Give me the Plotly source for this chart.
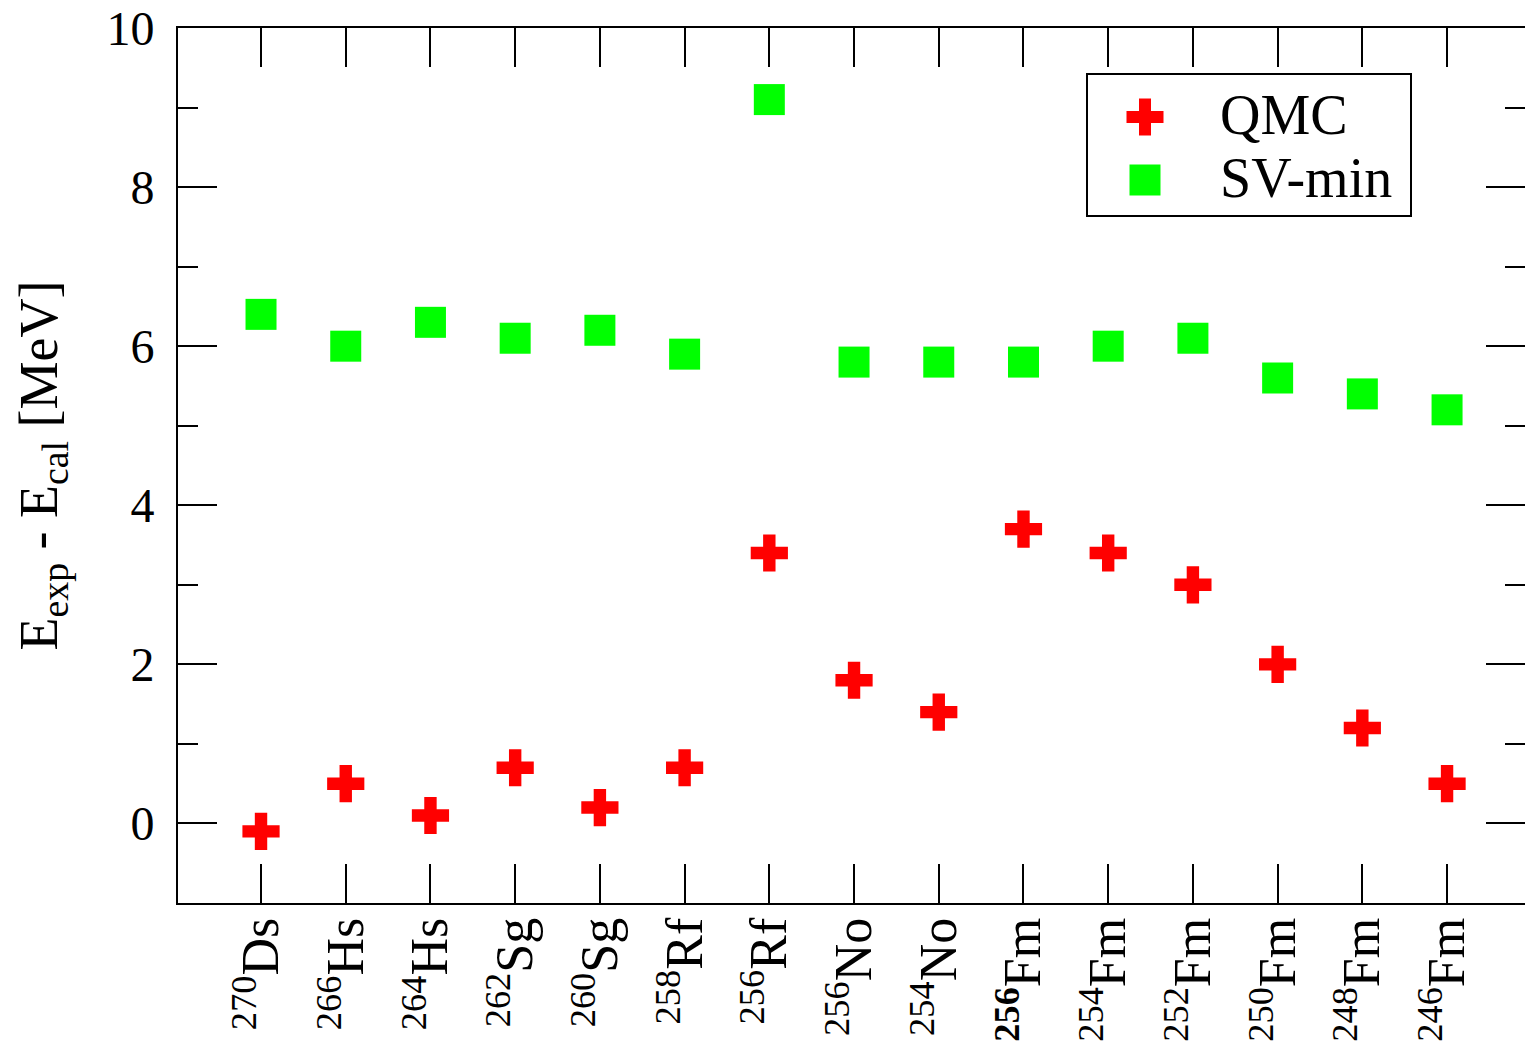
import plotly.graph_objects as go

# ---- data ----
nuclei = ["270Ds", "266Hs", "264Hs", "262Sg", "260Sg", "258Rf", "256Rf", "256No",
          "254No", "256Fm", "254Fm", "252Fm", "250Fm", "248Fm", "246Fm"]
tick_labels = ["<sup>270</sup>Ds", "<sup>266</sup>Hs", "<sup>264</sup>Hs", "<sup>262</sup>Sg",
               "<sup>260</sup>Sg", "<sup>258</sup>Rf", "<sup>256</sup>Rf", "<sup>256</sup>No",
               "<sup>254</sup>No", "<sup><b>256</b></sup>Fm", "<sup>254</sup>Fm", "<sup>252</sup>Fm",
               "<sup>250</sup>Fm", "<sup>248</sup>Fm", "<sup>246</sup>Fm"]
qmc = [-0.1, 0.5, 0.1, 0.7, 0.2, 0.7, 3.4, 1.8, 1.4, 3.7, 3.4, 3.0, 2.0, 1.2, 0.5]
svmin = [6.4, 6.0, 6.3, 6.1, 6.2, 5.9, 9.1, 5.8, 5.8, 5.8, 6.0, 6.1, 5.6, 5.4, 5.2]

FONT = "Liberation Serif"
RED = "#ff0000"
GREEN = "#00ff00"

fig = go.Figure()
fig.add_trace(go.Scatter(x=nuclei, y=qmc, mode="markers", name="QMC",
                         marker=dict(symbol="cross", size=31, color=RED, line=dict(width=0))))
fig.add_trace(go.Scatter(x=nuclei, y=svmin, mode="markers", name="SV-min",
                         marker=dict(symbol="square", size=31, color=GREEN, line=dict(width=0))))
# empty trace to activate the right-hand tick axis
fig.add_trace(go.Scatter(x=[], y=[], yaxis="y2", showlegend=False, hoverinfo="skip"))

fig.update_layout(
    width=1525, height=1054,
    margin=dict(l=178, r=0, t=28, b=151, autoexpand=False),
    paper_bgcolor="white", plot_bgcolor="white",
    showlegend=False,
    font=dict(family=FONT, color="black"),
    xaxis=dict(
        type="category", categoryorder="array", categoryarray=nuclei,
        range=[-0.98, 14.92],
        tickvals=nuclei, ticktext=tick_labels, tickangle=-90,
        tickfont=dict(family=FONT, size=52, color="black"),
        ticks="inside", ticklen=39, tickwidth=2, tickcolor="black",
        ticklabelstandoff=-8,
        showline=True, linewidth=2, linecolor="black", mirror="ticks",
        showgrid=False, zeroline=False,
    ),
    yaxis=dict(
        range=[-1, 10], tickvals=[0, 2, 4, 6, 8, 10],
        tickfont=dict(family=FONT, size=48, color="black"),
        ticks="inside", ticklen=39, tickwidth=2, tickcolor="black",
        minor=dict(ticks="inside", ticklen=20, tickwidth=2, tickcolor="black", dtick=1, tick0=0),
        ticklabelstandoff=12,
        showline=True, linewidth=2, linecolor="black", mirror=False,
        showgrid=False, zeroline=False,
        title=dict(text="E<sub>exp</sub> - E<sub>cal</sub> [MeV]",
                   font=dict(family=FONT, size=54, color="black"), standoff=32),
    ),
    yaxis2=dict(
        overlaying="y", side="right", range=[-1, 10], tickvals=[0, 2, 4, 6, 8, 10],
        showticklabels=False,
        ticks="inside", ticklen=39, tickwidth=2, tickcolor="black",
        minor=dict(ticks="inside", ticklen=20, tickwidth=2, tickcolor="black", dtick=1, tick0=0),
        showline=False, showgrid=False, zeroline=False,
    ),
)

# ---- legend box (drawn manually to keep large symbols) ----
W, H, L, T = 1347.0, 875.0, 178.0, 28.0
def px(xp):
    return (xp - L) / W
def py(yp):
    return (T + H - yp) / H

fig.add_shape(type="rect", xref="paper", yref="paper",
              x0=px(1087), x1=px(1411), y0=py(216), y1=py(74),
              line=dict(color="black", width=2), fillcolor="white", layer="above")
# cross symbol
for (w, h) in [(37, 12), (12, 37)]:
    fig.add_shape(type="rect", xref="paper", yref="paper",
                  xsizemode="pixel", ysizemode="pixel",
                  xanchor=px(1145), yanchor=py(117),
                  x0=-w / 2, x1=w / 2, y0=-h / 2, y1=h / 2,
                  line=dict(width=0), fillcolor=RED, layer="above")
# square symbol
fig.add_shape(type="rect", xref="paper", yref="paper",
              xsizemode="pixel", ysizemode="pixel",
              xanchor=px(1145), yanchor=py(180),
              x0=-15.5, x1=15.5, y0=-15.5, y1=15.5,
              line=dict(width=0), fillcolor=GREEN, layer="above")
for label, yc in [("QMC", 115), ("SV-min", 178)]:
    fig.add_annotation(xref="paper", yref="paper", x=px(1218), y=py(yc),
                       xanchor="left", yanchor="middle", showarrow=False,
                       text=label, font=dict(family=FONT, size=56, color="black"))

fig.write_html("out.html")
